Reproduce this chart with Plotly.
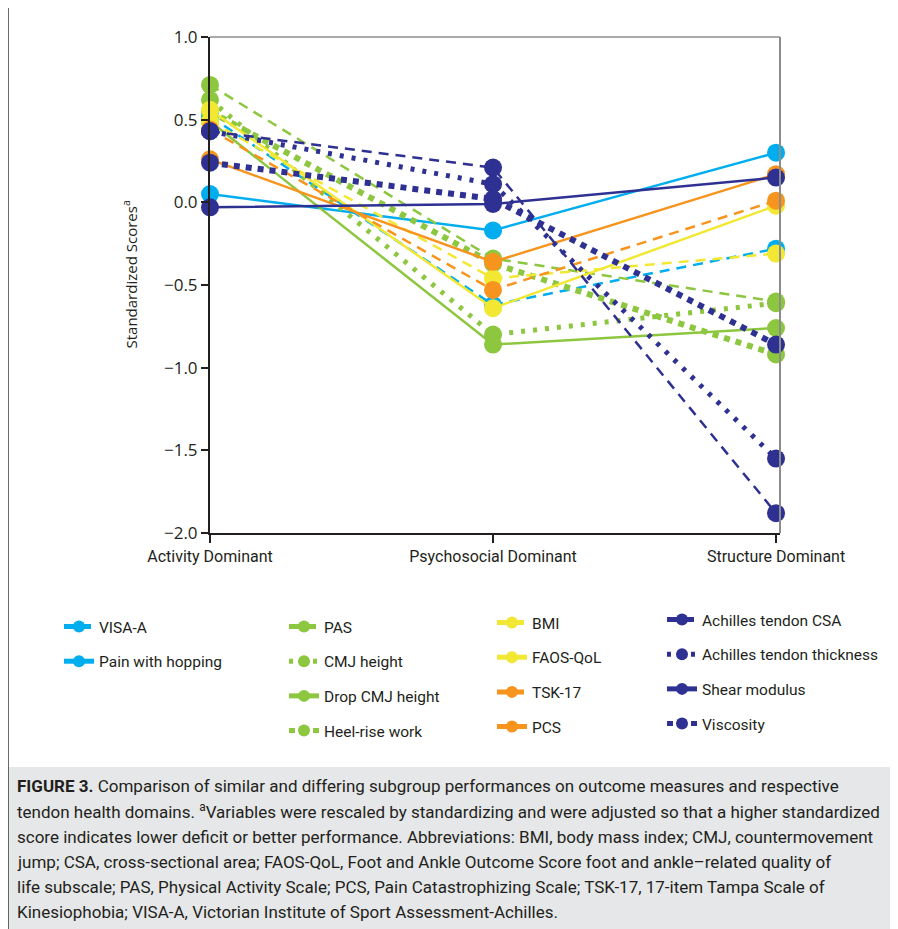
import plotly.graph_objects as go

# ---------------- data ----------------
categories = ["Activity Dominant", "Psychosocial Dominant", "Structure Dominant"]

series_names = [
    "VISA-A", "Pain with hopping",
    "PAS", "CMJ height", "Drop CMJ height", "Heel-rise work",
    "BMI", "FAOS-QoL", "TSK-17", "PCS",
    "Achilles tendon CSA", "Achilles tendon thickness", "Shear modulus", "Viscosity",
]

visa_a = [0.52, -0.62, -0.28]
pain_with_hopping = [0.05, -0.17, 0.30]
pas = [0.71, -0.34, -0.60]
cmj_height = [0.62, -0.80, -0.61]
drop_cmj_height = [0.49, -0.86, -0.76]
heel_rise_work = [0.55, -0.37, -0.92]
bmi = [0.49, -0.46, -0.31]
faos_qol = [0.56, -0.64, -0.02]
tsk_17 = [0.44, -0.53, 0.01]
pcs = [0.26, -0.36, 0.17]
achilles_csa = [0.43, 0.21, -1.88]
achilles_thickness = [0.43, 0.11, -1.55]
shear_modulus = [-0.03, -0.01, 0.15]
viscosity = [0.24, 0.02, -0.86]

series_values = [
    visa_a, pain_with_hopping,
    pas, cmj_height, drop_cmj_height, heel_rise_work,
    bmi, faos_qol, tsk_17, pcs,
    achilles_csa, achilles_thickness, shear_modulus, viscosity,
]

y_ticks = [-2.0, -1.5, -1.0, -0.5, 0.0, 0.5, 1.0]

caption_lines = [
    "<b>FIGURE 3.</b> Comparison of similar and differing subgroup performances on outcome measures and respective",
    "tendon health domains. <sup>a</sup>Variables were rescaled by standardizing and were adjusted so that a higher standardized",
    "score indicates lower deficit or better performance. Abbreviations: BMI, body mass index; CMJ, countermovement",
    "jump; CSA, cross-sectional area; FAOS-QoL, Foot and Ankle Outcome Score foot and ankle\u2013related quality of",
    "life subscale; PAS, Physical Activity Scale; PCS, Pain Catastrophizing Scale; TSK-17, 17-item Tampa Scale of",
    "Kinesiophobia; VISA-A, Victorian Institute of Sport Assessment-Achilles.",
]

# ---------------- styles ----------------
CYAN = "#00aeef"
GREEN = "#8dc63f"
YELLOW = "#f2e833"
ORANGE = "#f7941d"
NAVY = "#2e3192"
TEXT = "#231f20"

DASH = "10px,7px"
DOT = "4px,8px"
SQ = "6px,6px"

styles = [
    (CYAN, DASH, 2.5, "legend"), (CYAN, "solid", 2.5, "legend"),
    (GREEN, DASH, 2.5, "legend2"), (GREEN, DOT, 5, "legend2"),
    (GREEN, "solid", 2.5, "legend2"), (GREEN, SQ, 6, "legend2"),
    (YELLOW, DASH, 2.5, "legend3"), (YELLOW, "solid", 2.5, "legend3"),
    (ORANGE, DASH, 2.5, "legend3"), (ORANGE, "solid", 2.5, "legend3"),
    (NAVY, DASH, 2.5, "legend4"), (NAVY, DOT, 5, "legend4"),
    (NAVY, "solid", 2.5, "legend4"), (NAVY, SQ, 6, "legend4"),
]

NARROW = "Roboto, Liberation Sans Narrow, sans-serif"

fig = go.Figure()
for i, (name, vals) in enumerate(zip(series_names, series_values)):
    color, dash, width, leg = styles[i]
    fig.add_trace(go.Scatter(
        x=categories, y=vals, name=name, mode="lines+markers",
        line=dict(color=color, dash=dash, width=width),
        marker=dict(color=color, size=18),
        cliponaxis=False, legend=leg, legendgroup=name,
    ))

# page body adds an 8px offset; layout below is in reference-pixel terms
OFF = 8
W, H = 898 - OFF, 929 - OFF
L, R, T, B = 210, 780, 37, 533  # plot area in reference pixels


def px_x(x):
    return (x - L) / (R - L)


def px_y(y):
    return (B - y) / (B - T)


legend_common = dict(
    xref="paper", yref="paper", xanchor="left", yanchor="top",
    font=dict(family=NARROW, size=15.5, color=TEXT), bgcolor="rgba(0,0,0,0)",
    itemsizing="constant", tracegroupgap=11.5, traceorder="grouped",
)

fig.update_layout(
    width=W, height=H, autosize=False,
    margin=dict(l=L - OFF, r=W - (R - OFF), t=T - OFF, b=H - (B - OFF),
                autoexpand=False),
    paper_bgcolor="white", plot_bgcolor="white",
    showlegend=True,
    legend=dict(x=px_x(59), y=px_y(610), **legend_common),
    legend2=dict(x=px_x(284), y=px_y(610), **legend_common),
    legend3=dict(x=px_x(492), y=px_y(606), **legend_common),
    legend4=dict(x=px_x(662), y=px_y(603), **legend_common),
    xaxis=dict(
        type="category", range=[0, 2.014], showgrid=False, zeroline=False,
        showline=True, linecolor=TEXT, linewidth=2, tickangle=0,
        ticks="outside", ticklen=8, tickcolor=TEXT, tickwidth=1.5,
        tickfont=dict(family=NARROW, size=16, color=TEXT),
    ),
    yaxis=dict(
        range=[-2.0, 1.0], tickvals=y_ticks, tickformat=".1f",
        showgrid=False, zeroline=False,
        showline=True, linecolor=TEXT, linewidth=2,
        ticks="outside", ticklen=7, tickcolor=TEXT, tickwidth=1.5,
        tickfont=dict(family="Open Sans, sans-serif", size=17, color=TEXT),
    ),
    shapes=[
        # caption background
        dict(type="rect", xref="paper", yref="paper",
             x0=px_x(8), x1=px_x(891), y0=px_y(935), y1=px_y(767),
             fillcolor="#e6e7e8", line=dict(width=0), layer="below"),
        # outer frame
        dict(type="rect", xref="paper", yref="paper",
             x0=px_x(8), x1=px_x(891), y0=px_y(940), y1=px_y(7),
             line=dict(color="#3a3a3a", width=1.5), fillcolor="rgba(0,0,0,0)"),
        # top border of plot
        dict(type="line", xref="paper", yref="paper", x0=0, x1=1, y0=1, y1=1,
             line=dict(color="#555555", width=1)),
        # right border of plot
        dict(type="line", xref="paper", yref="paper", x0=1, x1=1, y0=0, y1=1,
             line=dict(color="#8c8c8c", width=2)),
    ],
)

annotations = [
    dict(text="Standardized Scores<sup>a</sup>", xref="paper", yref="paper",
         x=px_x(117), y=px_y(275), textangle=-90, showarrow=False,
         font=dict(family="Open Sans, sans-serif", size=15, color=TEXT)),
]
caption_y = [786, 811, 837, 862, 887, 912]
for line, cy in zip(caption_lines, caption_y):
    annotations.append(dict(
        text=line, xref="paper", yref="paper", x=px_x(15), y=px_y(cy),
        xanchor="left", yanchor="middle", showarrow=False, align="left",
        font=dict(family=NARROW, size=17, color=TEXT),
    ))
fig.update_layout(annotations=annotations)

fig.write_html("out.html")
